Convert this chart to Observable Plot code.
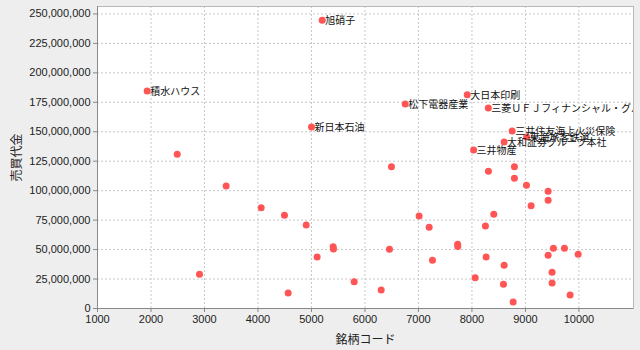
<!DOCTYPE html>
<html>
<head>
<meta charset="utf-8">
<script src="https://cdn.jsdelivr.net/npm/d3@7"></script>
<script src="https://cdn.jsdelivr.net/npm/@observablehq/plot@0.6"></script>
<style>
  html, body { margin: 0; padding: 0; background: #eeeeee; }
</style>
</head>
<body>
<div id="chart"></div>
<script>
// Stock code (銘柄コード) and trading value (売買代金); name only for labelled points
const codes = [5201, 1928, 5001, 6752, 7912, 8306, 8752, 9022, 8601, 8031,
  2490, 3405, 4060, 4495, 4901, 5106, 2907, 4564, 6495, 8308,
  8794, 8794, 9019, 9424, 9424, 9106, 8408, 7012, 7200, 8252,
  5405, 5411, 6458, 7733, 7735, 9523, 9729, 9985, 9424, 8265,
  7262, 8602, 9498, 8060, 5798, 8589, 9498, 6303, 9835, 8770];
const values = [244.6, 184.6, 154.1, 173.6, 181.3, 170.2, 150.7, 145.6, 141.4, 134.6,
  130.9, 104.0, 85.4, 79.2, 70.9, 43.8, 29.1, 13.2, 120.2, 116.5,
  120.2, 110.6, 104.6, 99.5, 91.9, 87.1, 80.0, 78.6, 69.0, 70.1,
  52.3, 50.5, 50.3, 54.6, 52.6, 51.2, 51.2, 46.1, 45.2, 43.8,
  41.0, 36.7, 30.8, 26.0, 22.6, 20.6, 21.7, 15.8, 11.5, 5.6].map(v => v * 1e6);
const names = ["旭硝子", "積水ハウス", "新日本石油", "松下電器産業", "大日本印刷",
  "三菱ＵＦＪフィナンシャル・グループ", "三井住友海上火災保険", "東海旅客鉄道",
  "大和証券グループ本社", "三井物産"];
const xTicks = [1000, 2000, 3000, 4000, 5000, 6000, 7000, 8000, 9000, 10000];
const yTicks = [0, 25e6, 50e6, 75e6, 100e6, 125e6, 150e6, 175e6, 200e6, 225e6, 250e6];

const data = codes.map((c, i) => ({code: c, value: values[i], name: names[i] || null}));
const labelled = data.filter(d => d.name);

const chart = Plot.plot({
  width: 640,
  height: 350,
  marginLeft: 97,
  marginTop: 6,
  marginRight: 7,
  marginBottom: 42,
  style: {background: "#eeeeee", fontFamily: "'Liberation Sans', Arial, sans-serif", fontSize: "11px", color: "#333"},
  x: {domain: [1000, 11020]},
  y: {domain: [0, 256.3e6]},
  marks: [
    Plot.frame({fill: "white"}),
    Plot.gridX(xTicks, {stroke: "#c8c8c8", strokeOpacity: 1, strokeDasharray: "2,2"}),
    Plot.gridY(yTicks, {stroke: "#c8c8c8", strokeOpacity: 1, strokeDasharray: "2,2"}),
    Plot.frame({stroke: "#b8b8b8"}),
    Plot.ruleX([1000], {stroke: "#888"}),
    Plot.ruleY([0], {stroke: "#888"}),
    Plot.axisX({ticks: xTicks, tickFormat: d => String(d), tickSize: 4, tickPadding: 3, stroke: "#888",
      label: "銘柄コード", labelAnchor: "center", labelArrow: "none", labelOffset: 35,
      fontFamily: "'Liberation Sans', Arial, sans-serif", fill: "#222"}),
    Plot.axisY({ticks: yTicks, tickFormat: d3.format(","), tickSize: 4, tickPadding: 3, stroke: "#888",
      label: "売買代金", labelAnchor: "center", labelArrow: "none", labelOffset: 85, fill: "#222"}),
    Plot.dot(data, {x: "code", y: "value", r: 3.5, fill: "#ff5555", stroke: "none"}),
    Plot.text(labelled, {x: "code", y: "value", text: "name", textAnchor: "start", dx: 3, dy: 1,
      fontSize: 10, fill: "#111", clip: true, fontFamily: "'Noto Sans CJK JP', sans-serif"})
  ]
});
document.getElementById("chart").appendChild(chart);
// axis label fonts
d3.select(chart).selectAll("[aria-label='x-axis label'] text, [aria-label='y-axis label'] text")
  .style("font-family", "'Noto Sans CJK JP', sans-serif").style("font-size", "12px");
</script>
</body>
</html>
